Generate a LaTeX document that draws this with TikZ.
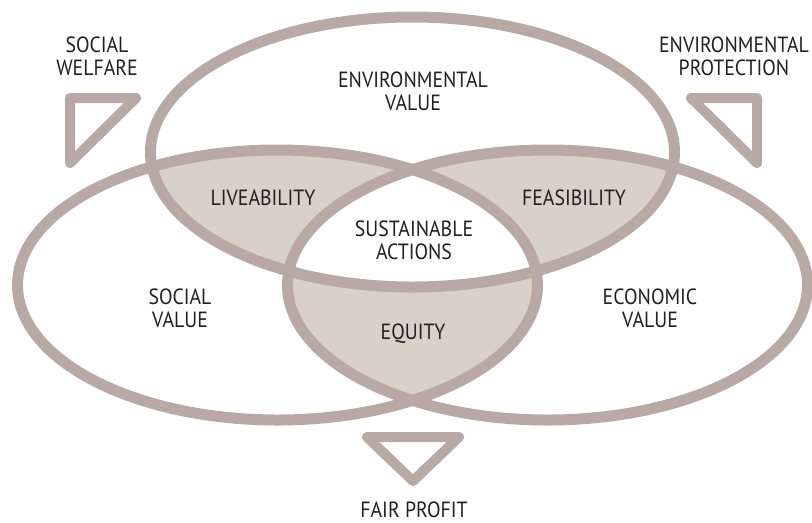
\documentclass[tikz,border=0pt]{standalone}
\usepackage{fontspec}
\setmainfont{PT Sans}[FakeStretch=0.9]
\usepackage{tikz}
\definecolor{mtaupe}{RGB}{184, 169, 164}
\definecolor{msand}{RGB}{217, 208, 200}
\definecolor{mdark}{RGB}{35, 31, 32}
\tikzset{ring/.style = {draw = mtaupe, line width = 8.25pt},
         wedge/.style = {draw = mtaupe, line width = 7.5pt, line join = round},
         lbl/.style = {align = center, inner sep = 0, text = mdark,
                       font = \fontsize{16.5}{17.3}\selectfont}}

\begin{document}
\begin{tikzpicture}[x = 0.75pt, y = -0.75pt]
    \useasboundingbox (0, 0) rectangle (812, 522);

    % overlaps of two values
    \begin{scope}
      \clip (412.5, 152) ellipse (262 and 135);
      \fill [msand] (277.5, 285) ellipse (260 and 135);
      \fill [msand] (547.5, 285) ellipse (260 and 135);
    \end{scope}
    \begin{scope}
      \clip (277.5, 285) ellipse (260 and 135);
      \fill [msand] (547.5, 285) ellipse (260 and 135);
    \end{scope}
    \begin{scope}
      \clip (412.5, 152) ellipse (262 and 135);
      \clip (277.5, 285) ellipse (260 and 135);
      \fill [white] (547.5, 285) ellipse (260 and 135);
    \end{scope}

    \draw [ring] (412.5, 152) ellipse (262 and 135);
    \draw [ring] (277.5, 285) ellipse (260 and 135);
    \draw [ring] (547.5, 285) ellipse (260 and 135);

    \draw [wedge] (70, 98) -- (136, 98) -- (70, 163) -- cycle;
    \draw [wedge] (691, 98) -- (757, 98) -- (757, 163) -- cycle;
    \draw [wedge] (367, 437) -- (459, 437) -- (413, 481) -- cycle;

    \node [lbl] (envval) at (413, 91) {ENVIRONMENTAL\\VALUE};
    \node [lbl] (socval) at (180, 308) {SOCIAL\\VALUE};
    \node [lbl] (ecoval) at (650, 308) {ECONOMIC\\VALUE};
    \node [lbl] (live) at (263, 198) {LIVEABILITY};
    \node [lbl] (feas) at (574, 198) {FEASIBILITY};
    \node [lbl] (equity) at (413, 334) {EQUITY};
    \node [lbl] (sust) at (414, 240) {SUSTAINABLE\\ACTIONS};

    \node [lbl] (welfare) at (97, 56) {SOCIAL\\WELFARE};
    \node [lbl] (protect) at (734, 56) {ENVIRONMENTAL\\PROTECTION};
    \node [lbl] (profit) at (414, 510) {FAIR PROFIT};
  \end{tikzpicture}
\end{document}
